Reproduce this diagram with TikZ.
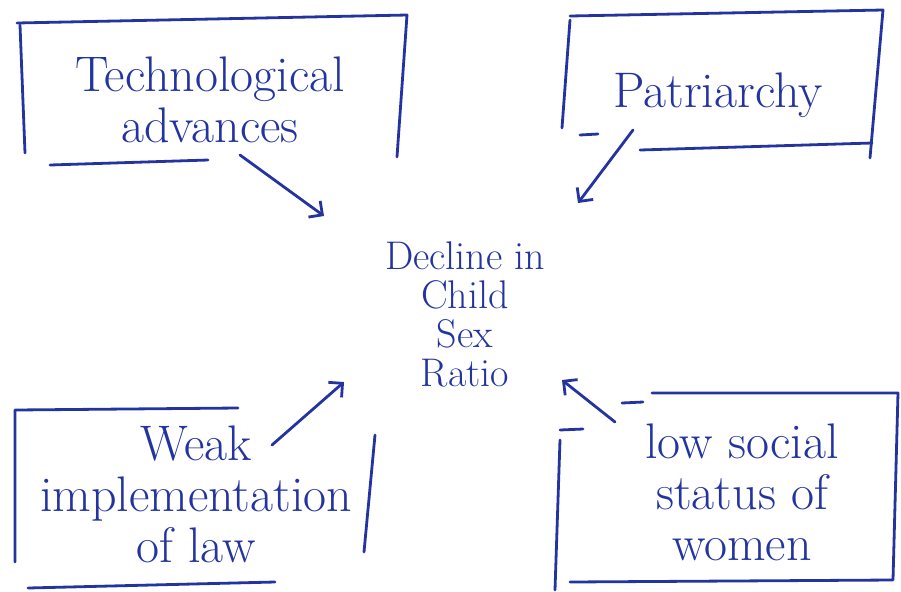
\documentclass[tikz,border=0pt]{standalone}
\usetikzlibrary{arrows.meta}
\definecolor{ink}{RGB}{35,52,160}
\tikzset{
  pen/.style={draw=ink,line width=1.4pt,line cap=round,line join=round},
  penarrow/.style={pen,-{Straight Barb[length=5pt,width=10pt,line width=1.4pt]}},
  boxtext/.style={text=ink,align=center,font=\fontsize{25}{25.5}\selectfont},
  midtext/.style={text=ink,align=center,font=\fontsize{20}{19.5}\selectfont}
}
\begin{document}
\begin{tikzpicture}[x=0.5pt,y=-0.5pt]
      \useasboundingbox (0,0) rectangle (901,591);

      % the four causes
      \node[boxtext] (tech)  at (210,100) {Technological\\advances};
      \node[boxtext] (patri) at (718,95)  {Patriarchy};
      \node[boxtext] (weak)  at (196,494) {Weak\\implementation\\of law};
      \node[boxtext] (women) at (742,492) {low social\\status of\\women};

      % the effect
      \node[midtext] (ratio) at (465,314) {Decline in\\Child\\Sex\\Ratio};

      % hand drawn boxes
      \draw[pen] (17,23) -- (407,15) -- (397,157);
      \draw[pen] (20,25) -- (25,153);
      \draw[pen] (50,165) -- (208,160);

      \draw[pen] (570,16) -- (883,10) -- (870,158);
      \draw[pen] (570,20) -- (562,128);
      \draw[pen] (640,150) -- (872,143);
      \draw[pen] (580,135) -- (598,134);

      \draw[pen] (238,408) -- (15,410) -- (15,562);
      \draw[pen] (28,588) -- (275,582);
      \draw[pen] (375,435) -- (364,552);

      \draw[pen] (652,393) -- (898,393) -- (893,580) -- (570,582);
      \draw[pen] (560,440) -- (555,590);
      \draw[pen] (622,403) -- (643,402);
      \draw[pen] (560,430) -- (583,429);

      % arrows towards the centre
      \coordinate (tech-a)  at (240,155);
      \coordinate (tech-b)  at (324,216);
      \coordinate (patri-a) at (633,130);
      \coordinate (patri-b) at (578,203);
      \coordinate (weak-a)  at (272,445);
      \coordinate (weak-b)  at (344,382);
      \coordinate (women-a) at (615,422);
      \coordinate (women-b) at (562,380);

      \draw[penarrow] (tech-a) -- (tech-b);
      \draw[penarrow] (patri-a) -- (patri-b);
      \draw[penarrow] (weak-a) -- (weak-b);
      \draw[penarrow] (women-a) -- (women-b);
    \end{tikzpicture}
\end{document}
